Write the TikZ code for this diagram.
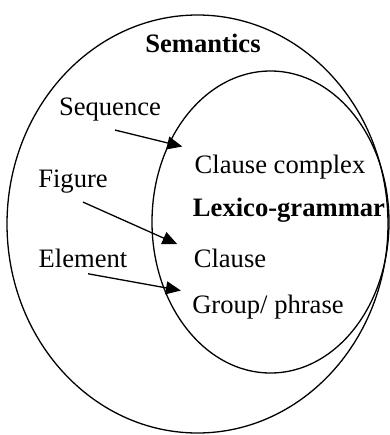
\documentclass[tikz,border=0pt]{standalone}
\usepackage{fontspec}
\setmainfont{Liberation Serif}
\usetikzlibrary{positioning, arrows.meta, shapes.geometric}

\begin{document}
\begin{tikzpicture}[
  x=0.5pt, y=-0.5pt,
  every node/.style={font=\fontsize{13.3}{16}\selectfont},
  region/.style={draw, ellipse, line width=0.65pt, inner sep=0pt},
  term/.style={inner sep=1pt},
  arrow/.style={-{Triangle[length=7.5pt,width=6.5pt]}, line width=0.65pt},
]
\useasboundingbox (0,0) rectangle (390,435);

% Regions
\node[region, minimum width=190.5pt, minimum height=209pt] (sem) at (197.5,224) {};
\node[region, minimum width=118.5pt, minimum height=151pt] (lex) at (270.5,222) {};

% Labels
\node[term, font=\fontsize{13.3}{16}\selectfont\bfseries] (semt) at (203,43) {Semantics};
\node[term, font=\fontsize{13.3}{16}\selectfont\bfseries] (lext) at (289,210) {Lexico-grammar};
\node[term] (seq) at (110,110) {Sequence};
\node[term] (fig) at (73,182) {Figure};
\node[term] (elem) at (83,258) {Element};
\node[term] (cc) at (280,167) {Clause complex};
\node[term] (cl) at (230,258) {Clause};
\node[term] (grp) at (268,307) {Group/ phrase};

% Arrows
\draw[arrow] ([xshift=2.5pt,yshift=-3pt]seq.south) -- ([xshift=-5pt,yshift=3pt]cc.north west);
\draw[arrow] ([xshift=5pt,yshift=-3pt]fig.south) -- ([xshift=-7pt,yshift=1pt]cl.north west);
\draw[arrow] ([xshift=2.5pt,yshift=-2pt]elem.south) -- ([xshift=-4.5pt,yshift=1pt]grp.north west);

\end{tikzpicture}
\end{document}
